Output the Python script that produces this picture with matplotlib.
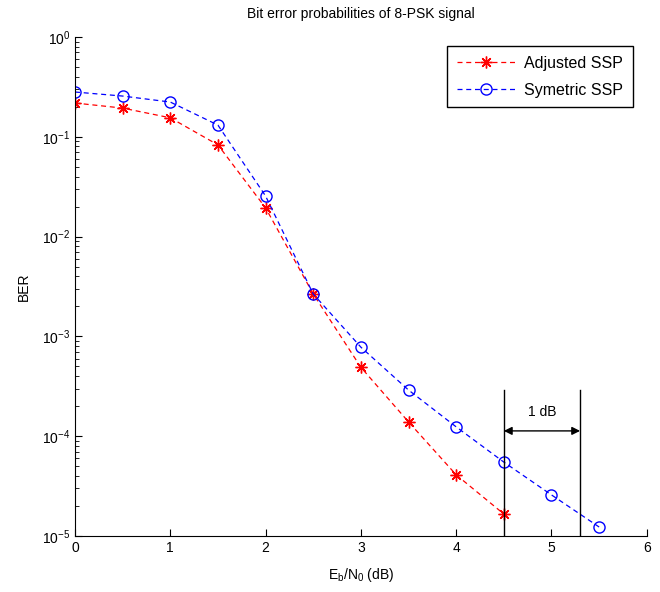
import matplotlib
matplotlib.use("Agg")
import matplotlib.pyplot as plt

plt.rcParams["font.family"] = ["Liberation Sans", "DejaVu Sans"]
plt.rcParams["mathtext.default"] = "regular"

# Eb/N0 points (dB)
ebn0_adj = [0, 0.5, 1, 1.5, 2, 2.5, 3, 3.5, 4, 4.5]
ebn0_sym = [0, 0.5, 1, 1.5, 2, 2.5, 3, 3.5, 4, 4.5, 5, 5.5]

# BER values
ber_adj = [0.218, 0.194, 0.155, 0.083, 0.0194, 0.00266,
           4.9e-4, 1.39e-4, 4.1e-5, 1.66e-5]
ber_sym = [0.281, 0.256, 0.223, 0.131, 0.0255, 0.00266,
           7.8e-4, 2.9e-4, 1.24e-4, 5.5e-5, 2.58e-5, 1.23e-5]

# 1 dB gap marker
gap_x = [4.5, 5.3]
gap_top = 2.9e-4
gap_arrow_y = 1.13e-4

fig = plt.figure(figsize=(6.6, 5.92), dpi=100)
ax = fig.add_axes([0.1136, 0.0946, 0.8664, 0.8429])

# MATLAB-style '*' = 8-spoke asterisk
ax.plot(ebn0_adj, ber_adj, linestyle="--", dashes=(4, 3), color="red",
        marker=(8, 2, 0), markersize=8.5, markeredgewidth=1.0,
        linewidth=0.9, label="Adjusted SSP")
ax.plot(ebn0_sym, ber_sym, linestyle="--", dashes=(4, 3), color="blue",
        marker="o", markersize=8, markerfacecolor="none", markeredgewidth=1.0,
        linewidth=0.9, label="Symetric SSP")

ax.set_yscale("log")
ax.set_xlim(0, 6)
ax.set_ylim(1e-5, 1)
ax.set_xticks(range(7))

# annotation: 1 dB gap
for gx in gap_x:
    ax.plot([gx, gx], [1e-5, gap_top], color="black", linewidth=1.0)
ax.annotate("", xy=(gap_x[0], gap_arrow_y), xytext=(gap_x[1], gap_arrow_y),
            arrowprops=dict(arrowstyle="<|-|>", color="black", lw=1.0,
                            mutation_scale=12, shrinkA=0, shrinkB=0))
ax.text(sum(gap_x) / 2, 1.5e-4, "1 dB", ha="center", va="bottom", fontsize=10)

ax.spines["top"].set_visible(False)
ax.spines["right"].set_visible(False)
ax.tick_params(which="both", direction="in", labelsize=10)
ax.tick_params(which="major", length=5)
ax.tick_params(which="minor", length=3)

ax.set_title("Bit error probabilities of 8-PSK signal", fontsize=10, pad=14)
ax.set_xlabel("E$_b$/N$_0$ (dB)", fontsize=10, labelpad=8)
ax.set_ylabel("BER", fontsize=10, labelpad=8)

leg = ax.legend(loc="upper right", bbox_to_anchor=(0.976, 0.982), fontsize=11.5,
                fancybox=False, edgecolor="black", framealpha=1,
                handlelength=3.7, handletextpad=0.55, borderpad=0.6,
                labelspacing=0.75, borderaxespad=0)
leg.get_frame().set_linewidth(1.0)

fig.savefig("out.png", dpi=100)
